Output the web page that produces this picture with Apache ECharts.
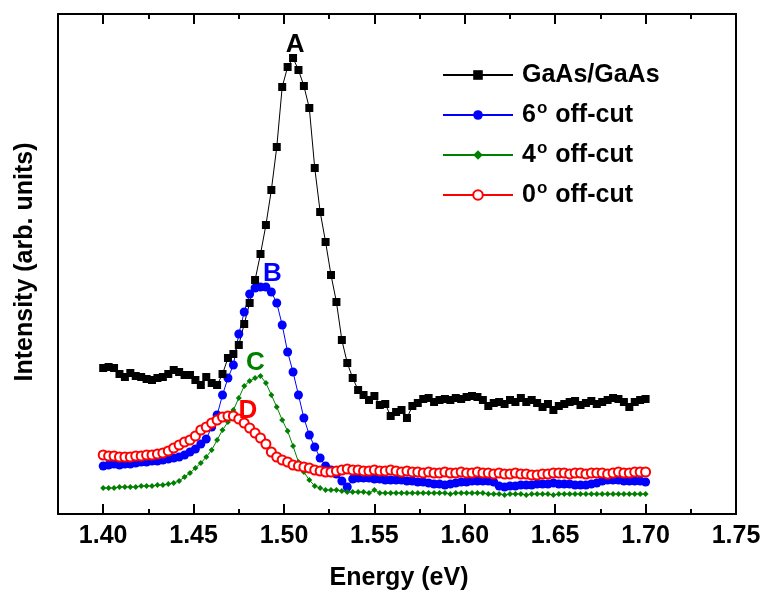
<!DOCTYPE html>
<html>
<head>
<meta charset="utf-8">
<script src="https://cdn.jsdelivr.net/npm/echarts@6/dist/echarts.min.js"></script>
<style>html,body{margin:0;padding:0;background:#fff;}#c{width:768px;height:602px;}</style>
</head>
<body>
<div id="c"></div>
<script>
// Energy grid (eV)
const energy = [
1.400,1.403,1.406,1.409,1.412,1.415,1.418,1.421,1.424,1.427,
1.430,1.433,1.436,1.439,1.442,1.445,1.448,1.451,1.454,1.457,
1.460,1.463,1.466,1.469,1.472,1.475,1.478,1.481,1.484,1.487,
1.490,1.493,1.496,1.499,1.502,1.505,1.508,1.511,1.514,1.517,
1.520,1.523,1.526,1.529,1.532,1.535,1.538,1.541,1.544,1.547,
1.550,1.553,1.556,1.559,1.562,1.565,1.568,1.571,1.574,1.577,
1.580,1.583,1.586,1.589,1.592,1.595,1.598,1.601,1.604,1.607,
1.610,1.613,1.616,1.619,1.622,1.625,1.628,1.631,1.634,1.637,
1.640,1.643,1.646,1.649,1.652,1.655,1.658,1.661,1.664,1.667,
1.670,1.673,1.676,1.679,1.682,1.685,1.688,1.691,1.694,1.697,
1.700];

// Intensities (arb. units)
const gaasGaas = [
146,147,146,140,137,141,138,137,135,134,
136,137,140,144,142,139,139,134,129,137,
131,129,140,156,160,169,190,211,234,260,
289,324,367,427,447,456,444,428,406,346,
302,272,239,212,174,151,136,124,119,114,
118,109,110,98,102,104,96,108,111,115,
116,112,114,115,114,116,115,117,118,117,
114,108,111,112,110,114,112,116,112,114,
111,107,110,104,108,110,112,113,109,111,
113,110,112,114,116,115,112,107,112,114,
115];

const offcut6 = [
48,49,50,49,50,50,51,52,52,53,
53,54,55,56,57,59,62,65,70,75,
87,99,119,136,149,180,202,220,226,227,
227,222,211,189,162,142,119,96,79,67,
56,48,44,40,33,27,35,36,36,36,
35,35,34,34,34,34,33,33,32,32,
31,30,30,29,30,31,32,32,33,33,
33,33,32,28,27,28,28,29,29,29,
30,30,30,31,30,30,30,29,29,29,
30,31,33,34,34,34,33,33,33,33,
32];

const offcut4 = [
26,26,26,27,27,27,27,28,28,28,
29,29,30,31,33,37,41,46,51,57,
64,74,84,92,104,116,128,133,136,138,
131,119,107,94,83,68,52,42,34,28,
26,24,24,24,23,22,22,22,22,21,
24,21,21,21,21,21,21,21,21,21,
21,21,21,21,20,21,21,21,21,21,
21,20,20,20,19,20,20,20,19,20,
20,20,20,19,20,20,20,20,20,20,
20,20,20,20,20,20,20,20,20,20,
20];

const offcut0 = [
59,58,58,57,57,57,58,58,59,59,
60,61,63,66,69,72,74,78,84,87,
91,94,97,98,98,95,91,86,81,76,
70,62,57,54,52,49,48,47,46,44,
43,42,42,43,44,45,44,44,43,43,
44,43,43,44,43,42,43,42,42,41,
42,41,41,42,41,41,42,41,41,42,
41,41,40,41,40,40,41,40,40,39,
39,40,40,41,41,41,40,41,41,40,
41,41,41,40,41,42,41,41,42,42,
42];

const seriesNames = ['GaAs/GaAs','6° off-cut','4° off-cut','0° off-cut'];
const peakLabels = ['A','B','C','D'];
const peakIndex = [35,29,29,23];
const xTitle = 'Energy (eV)';
const yTitle = 'Intensity (arb. units)';

const FONT = 'Liberation Sans, Arial, Helvetica, sans-serif';
const pairs = ys => energy.map((x,i)=>[x, ys[i]]);

function peakMark(label, x, y, color, offset){
  return {
    symbol:'circle', symbolSize:1, itemStyle:{color:'rgba(0,0,0,0)'},
    silent:true,
    data:[{coord:[x,y]}],
    label:{show:true, formatter:label, color:color, fontSize:26, fontWeight:'bold',
           fontFamily:FONT, position:'inside', offset:offset}
  };
}

// frame axes of grid 0 (1.375 .. 1.75)
function frameXAxis(position){
  return {
    type:'value', gridIndex:0, position:position, min:1.375, max:1.75, interval:0.025,
    splitLine:{show:false},
    axisLine:{show:true, onZero:false, lineStyle:{color:'#000', width:2}},
    axisTick:{show:false},
    axisLabel:{show:false}
  };
}
// tick axes of grid 1 (1.40 .. 1.75): major + minor inward ticks
function tickXAxis(position, withLabels){
  return {
    type:'value', gridIndex:1, position:position, min:1.40, max:1.75, interval:0.05,
    splitLine:{show:false}, minorSplitLine:{show:false},
    axisLine:{show:true, onZero:false, lineStyle:{color:'#000', width:2}},
    axisTick:{show:true, inside:true, length:10, lineStyle:{color:'#000', width:2}},
    minorTick:{show:true, splitNumber:2, length:5, lineStyle:{color:'#000', width:2}},
    axisLabel: withLabels ? {show:true, formatter:v=>v.toFixed(2), margin:10,
      fontSize:25, fontWeight:'bold', fontFamily:FONT, color:'#000'} : {show:false}
  };
}

const chart = echarts.init(document.getElementById('c'));
const option = {
  animation:false,
  grid:[
    {left:58, right:32, top:14, bottom:88},
    {left:103.2, right:32, top:14, bottom:88}
  ],
  xAxis:[frameXAxis('bottom'), frameXAxis('top'), tickXAxis('bottom', true), tickXAxis('top', false)],
  yAxis:[
    {type:'value', gridIndex:0, position:'left', min:0, max:500, splitLine:{show:false},
     axisLine:{show:true, onZero:false, lineStyle:{color:'#000', width:2}},
     axisTick:{show:false}, axisLabel:{show:false}},
    {type:'value', gridIndex:0, position:'right', min:0, max:500, splitLine:{show:false},
     axisLine:{show:true, onZero:false, lineStyle:{color:'#000', width:2}},
     axisTick:{show:false}, axisLabel:{show:false}},
    {type:'value', gridIndex:1, position:'left', min:0, max:500, splitLine:{show:false},
     axisLine:{show:false}, axisTick:{show:false}, axisLabel:{show:false}}
  ],
  graphic:[
    {type:'text', x:399, y:578, silent:true,
     style:{text:xTitle, fontSize:25, fontWeight:'bold', fontFamily:FONT, fill:'#000',
            align:'center', verticalAlign:'middle'}},
    {type:'text', x:25, y:262, rotation:Math.PI/2, silent:true,
     style:{text:yTitle, fontSize:25, fontWeight:'bold', fontFamily:FONT, fill:'#000',
            align:'center', verticalAlign:'middle'}}
  ],
  legend:{
    data:seriesNames, orient:'vertical', left:437, top:55,
    itemWidth:70, itemHeight:12, itemGap:10,
    formatter: name => name.replace('°','{sup|o}'),
    textStyle:{fontSize:25, fontWeight:'bold', fontFamily:FONT, color:'#000', lineHeight:30,
      padding:[0,0,0,4],
      rich:{sup:{fontSize:17, fontWeight:'bold', fontFamily:FONT, color:'#000', verticalAlign:'top', lineHeight:17, padding:[0,1,0,1]}}}
  },
  series:[
    {name:seriesNames[1], type:'line', xAxisIndex:0, yAxisIndex:0, data:pairs(offcut6),
     symbol:'circle', symbolSize:9, lineStyle:{color:'#0000ff', width:1}, itemStyle:{color:'#0000ff'},
     markPoint:peakMark(peakLabels[1], energy[peakIndex[1]], offcut6[peakIndex[1]], '#0000ff', [12,-13])},
    {name:seriesNames[2], type:'line', xAxisIndex:0, yAxisIndex:0, data:pairs(offcut4),
     symbol:'diamond', symbolSize:6, lineStyle:{color:'#008000', width:1}, itemStyle:{color:'#008000'},
     markPoint:peakMark(peakLabels[2], energy[peakIndex[2]], offcut4[peakIndex[2]], '#008000', [-5,-13])},
    {name:seriesNames[3], type:'line', xAxisIndex:0, yAxisIndex:0, data:pairs(offcut0),
     symbol:'emptyCircle', symbolSize:9, lineStyle:{color:'#ff0000', width:1},
     itemStyle:{color:'#ff0000', borderColor:'#ff0000', borderWidth:1},
     markPoint:peakMark(peakLabels[3], energy[peakIndex[3]], offcut0[peakIndex[3]], '#ff0000', [20,-5])},
    {name:seriesNames[0], type:'line', xAxisIndex:0, yAxisIndex:0, data:pairs(gaasGaas),
     symbol:'rect', symbolSize:8, lineStyle:{color:'#000', width:1}, itemStyle:{color:'#000'},
     markPoint:peakMark(peakLabels[0], energy[peakIndex[0]], gaasGaas[peakIndex[0]], '#000', [2,-13])}
  ]
};
chart.setOption(option);
</script>
</body>
</html>
